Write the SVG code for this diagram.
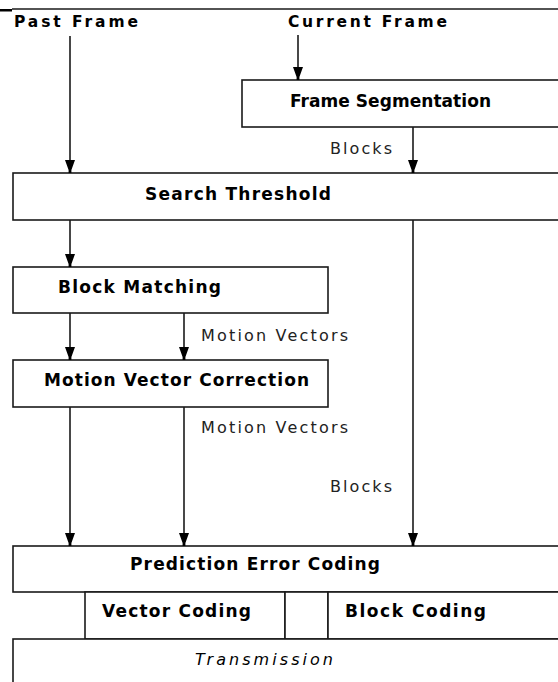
<svg xmlns="http://www.w3.org/2000/svg" width="558" height="682" viewBox="0 0 558 682">
<defs>
<style>
.box{fill:#fff;stroke:#1a1a1a;stroke-width:1.6}
.ln{fill:none;stroke:#1a1a1a;stroke-width:1.6}
.t{font-family:"DejaVu Sans","Liberation Sans",sans-serif;font-weight:bold;font-size:17px;fill:#000}
.h{font-family:"DejaVu Sans","Liberation Sans",sans-serif;font-weight:bold;font-size:15.5px;fill:#000}
.e{font-family:"DejaVu Sans","Liberation Sans",sans-serif;font-size:16px;fill:#222}
.i{font-family:"DejaVu Sans","Liberation Sans",sans-serif;font-style:italic;font-size:16px;fill:#000}
</style>
<marker id="arr" markerUnits="userSpaceOnUse" markerWidth="14" markerHeight="12" viewBox="-13 -6 14 12" refX="0" refY="0" orient="auto">
<path d="M-13,-5 L-3,-1.4 L0,-1.4 L0,1.4 L-3,1.4 L-13,5 Z" fill="#000"/>
</marker>
</defs>
<rect width="558" height="682" fill="#fff"/>
<g id="topline">
<line x1="12" y1="9" x2="558" y2="9" class="ln"/>
<rect x="0" y="9" width="12" height="2.5" fill="#000"/>
</g>
<g id="past-frame"><text class="h" x="14" y="27" textLength="124" lengthAdjust="spacing">Past Frame</text></g>
<g id="current-frame"><text class="h" x="288" y="27" textLength="159" lengthAdjust="spacing">Current Frame</text></g>
<g id="frame-segmentation">
<rect class="box" x="242" y="80" width="330" height="47"/>
<text class="t" x="290" y="107" textLength="201" lengthAdjust="spacing">Frame Segmentation</text>
</g>
<g id="search-threshold">
<rect class="box" x="13" y="173" width="560" height="47"/>
<text class="t" x="145" y="200" textLength="186" lengthAdjust="spacing">Search Threshold</text>
</g>
<g id="block-matching">
<rect class="box" x="13" y="267" width="315" height="46"/>
<text class="t" x="58" y="293" textLength="163" lengthAdjust="spacing">Block Matching</text>
</g>
<g id="motion-vector-correction">
<rect class="box" x="13" y="360" width="315" height="47"/>
<text class="t" x="44" y="386" textLength="265" lengthAdjust="spacing">Motion Vector Correction</text>
</g>
<g id="prediction-error-coding">
<rect class="box" x="13" y="546" width="560" height="46"/>
<text class="t" x="130" y="570" textLength="250" lengthAdjust="spacing">Prediction Error Coding</text>
</g>
<g id="vector-coding">
<rect class="box" x="85" y="592" width="200" height="47"/>
<text class="t" x="102" y="617" textLength="149" lengthAdjust="spacing">Vector Coding</text>
</g>
<g id="block-coding">
<rect class="box" x="285" y="592" width="43" height="47"/>
<rect class="box" x="328" y="592" width="245" height="47"/>
<text class="t" x="345" y="617" textLength="141" lengthAdjust="spacing">Block Coding</text>
</g>
<g id="transmission">
<rect class="box" x="13" y="639" width="560" height="60"/>
<text class="i" x="195" y="665" textLength="138" lengthAdjust="spacing">Transmission</text>
</g>
<g id="connectors">
<line class="ln" x1="298" y1="35" x2="298" y2="80" marker-end="url(#arr)"/>
<line class="ln" x1="70" y1="36" x2="70" y2="173" marker-end="url(#arr)"/>
<line class="ln" x1="413" y1="127" x2="413" y2="173" marker-end="url(#arr)"/>
<line class="ln" x1="70" y1="220" x2="70" y2="267" marker-end="url(#arr)"/>
<line class="ln" x1="70" y1="313" x2="70" y2="360" marker-end="url(#arr)"/>
<line class="ln" x1="184" y1="313" x2="184" y2="360" marker-end="url(#arr)"/>
<line class="ln" x1="70" y1="407" x2="70" y2="546" marker-end="url(#arr)"/>
<line class="ln" x1="184" y1="407" x2="184" y2="546" marker-end="url(#arr)"/>
<line class="ln" x1="413" y1="220" x2="413" y2="546" marker-end="url(#arr)"/>
<text class="e" x="330" y="154" textLength="62" lengthAdjust="spacing">Blocks</text>
<text class="e" x="201" y="341" textLength="147" lengthAdjust="spacing">Motion Vectors</text>
<text class="e" x="201" y="433" textLength="147" lengthAdjust="spacing">Motion Vectors</text>
<text class="e" x="330" y="492" textLength="62" lengthAdjust="spacing">Blocks</text>
</g>
</svg>
